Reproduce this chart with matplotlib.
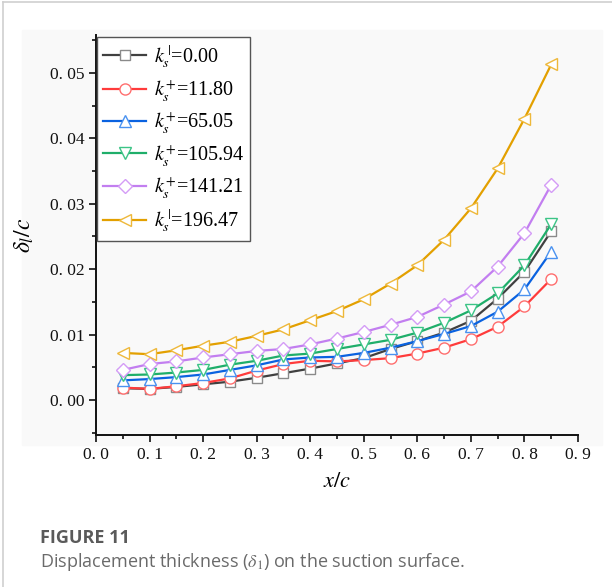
import matplotlib
matplotlib.use("Agg")
from matplotlib import pyplot as plt
from matplotlib.lines import Line2D
from matplotlib.patches import Rectangle
from matplotlib.ticker import MultipleLocator, FuncFormatter

plt.rcParams['mathtext.fontset'] = 'stix'

x_c = [0.05, 0.10, 0.15, 0.20, 0.25, 0.30, 0.35, 0.40, 0.45,
       0.50, 0.55, 0.60, 0.65, 0.70, 0.75, 0.80, 0.85]

ks_000 = [0.0018, 0.0017, 0.0020, 0.0024, 0.0028, 0.0034, 0.0041, 0.0048, 0.0056,
          0.0064, 0.0078, 0.0090, 0.0103, 0.0121, 0.0155, 0.0196, 0.0258]
ks_1180 = [0.0019, 0.0017, 0.0021, 0.0026, 0.0033, 0.0045, 0.0055, 0.0060, 0.0059,
           0.0061, 0.0064, 0.0071, 0.0080, 0.0093, 0.0112, 0.0143, 0.0185]
ks_6505 = [0.0030, 0.0032, 0.0035, 0.0039, 0.0046, 0.0053, 0.0062, 0.0065, 0.0066,
           0.0072, 0.0080, 0.0090, 0.0101, 0.0113, 0.0135, 0.0169, 0.0227]
ks_10594 = [0.0038, 0.0039, 0.0042, 0.0046, 0.0054, 0.0060, 0.0068, 0.0071, 0.0078,
            0.0085, 0.0092, 0.0103, 0.0118, 0.0137, 0.0163, 0.0206, 0.0269]
ks_14121 = [0.0046, 0.0055, 0.0059, 0.0065, 0.0070, 0.0075, 0.0078, 0.0085, 0.0094,
            0.0104, 0.0115, 0.0127, 0.0146, 0.0166, 0.0204, 0.0255, 0.0329]
ks_19647 = [0.0072, 0.0070, 0.0076, 0.0083, 0.0089, 0.0098, 0.0108, 0.0122, 0.0136,
            0.0154, 0.0178, 0.0206, 0.0245, 0.0293, 0.0354, 0.0430, 0.0513]

labels = [r"$k_s^{\,|}$=0.00", r"$k_s^{+}$=11.80", r"$k_s^{+}$=65.05",
          r"$k_s^{+}$=105.94", r"$k_s^{+}$=141.21", r"$k_s^{\,|}$=196.47"]
series = [ks_000, ks_1180, ks_6505, ks_10594, ks_14121, ks_19647]
colors = ['#404040', '#ff3b3b', '#0a62e0', '#1fae6a', '#c27ef0', '#e3a000']
edge_colors = ['#8a8a8a', '#ff6e6e', '#4a92f0', '#3cc486', '#d49cf6', '#eeb83a']
markers = ['s', 'o', '^', 'v', 'D', '<']
msizes = [7, 8, 8, 8, 7, 8]

fig = plt.figure(figsize=(6.12, 5.87), dpi=100)
fig.patch.set_facecolor('white')

# light panel behind the chart and the page border
fig.add_artist(Rectangle((22 / 612, 1 - 445 / 587), 580 / 612, 415 / 587,
                         transform=fig.transFigure, color='#f9f9f9', zorder=0))
fig.add_artist(Line2D([3 / 612, 1], [1 - 2 / 587, 1 - 2 / 587],
                      transform=fig.transFigure, color='#cfcfcf', lw=1.2))
fig.add_artist(Line2D([3 / 612, 3 / 612], [0, 1 - 2 / 587],
                      transform=fig.transFigure, color='#cfcfcf', lw=1.2))

ax = fig.add_axes([96 / 612, 1 - 435 / 587, 482 / 612, 400 / 587])
ax.set_facecolor('none')

for y, lab, c, ec, m, ms in zip(series, labels, colors, edge_colors, markers, msizes):
    ax.plot(x_c, y, color=c, lw=1.6, marker=m, markersize=ms,
            markerfacecolor='white', markeredgecolor=ec, markeredgewidth=1.0,
            label=lab)

ax.set_xlim(0, 0.9)
ax.set_ylim(-0.00535, 0.0558)
ax.xaxis.set_major_locator(MultipleLocator(0.1))
ax.xaxis.set_minor_locator(MultipleLocator(0.05))
ax.yaxis.set_major_locator(MultipleLocator(0.01))
ax.yaxis.set_minor_locator(MultipleLocator(0.005))
ax.xaxis.set_major_formatter(FuncFormatter(lambda v, p: f"{v:.1f}".replace(".", ". ")))
ax.yaxis.set_major_formatter(FuncFormatter(lambda v, p: f"{v:.2f}".replace(".", ". ")))
ax.tick_params(which='both', direction='out', width=1.2, colors='#111111',
               labelsize=12.5)
ax.tick_params(which='major', length=5)
ax.tick_params(which='minor', length=3)
for lbl in ax.get_xticklabels() + ax.get_yticklabels():
    lbl.set_fontfamily('Liberation Serif')

for side in ['top', 'right']:
    ax.spines[side].set_visible(False)
for side in ['left', 'bottom']:
    ax.spines[side].set_linewidth(1.4)
    ax.spines[side].set_color('#111111')

ax.set_xlabel(r"$x/c$", fontsize=16, labelpad=6)
ax.set_ylabel(r"$\delta_l/c$", fontsize=17, labelpad=10)

leg = ax.legend(loc='upper left', bbox_to_anchor=(0.003, 0.995), borderaxespad=0,
                fancybox=False, edgecolor='#555555', framealpha=1, facecolor='white',
                prop={'family': 'Liberation Serif', 'size': 14.5},
                handlelength=2.1, handletextpad=0.4, labelspacing=0.37,
                borderpad=0.3)
leg.get_frame().set_linewidth(1.0)

fig.text(40 / 612, 1 - 538 / 587, "FIGURE 11", fontsize=13, fontweight='bold',
         color='#5a5a5a', family='Open Sans', va='center')
fig.text(40 / 612, 1 - 562 / 587,
         r"Displacement thickness ($\delta_1$) on the suction surface.",
         fontsize=13, color='#6a6a6a', family='Open Sans', va='center')

plt.savefig("out.png", dpi=100)
plt.close(fig)
